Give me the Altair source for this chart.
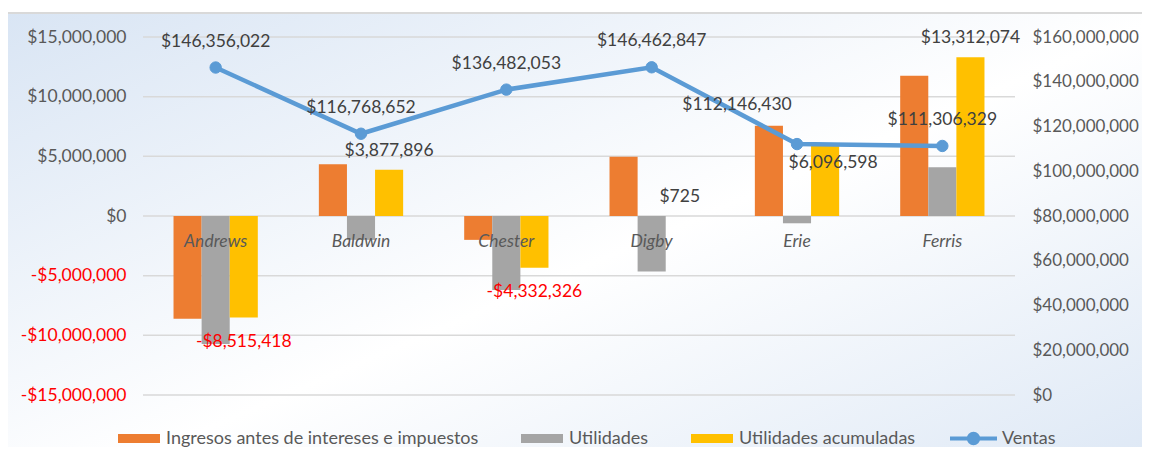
import altair as alt
import pandas as pd

# ---------------- data ----------------
categorias = ["Andrews", "Baldwin", "Chester", "Digby", "Erie", "Ferris"]
series_barras = ["Ingresos antes de intereses e impuestos", "Utilidades", "Utilidades acumuladas"]
ingresos = [-8600000, 4330000, -2000000, 4970000, 7560000, 11750000]
utilidades = [-10720000, -2000000, -6200000, -4660000, -610000, 4080000]
acumuladas = [-8515418, 3877896, -4332326, 725, 6096598, 13312074]
serie_linea = "Ventas"
ventas = [146356022, 116768652, 136482053, 146462847, 112146430, 111306329]
ticks_izq = [-15000000, -10000000, -5000000, 0, 5000000, 10000000, 15000000]
ticks_der = [0, 20000000, 40000000, 60000000, 80000000, 100000000, 120000000, 140000000, 160000000]

colores_barras = ["#ED7D31", "#A5A5A5", "#FFC000"]
color_linea = "#5B9BD5"
FONT = "Lato"
GRIS = "#595959"
GRIS_DATO = "#404040"
ROJO = "#FF0000"
W, H = 872, 358
ESPECIAL = categorias[4]  # Erie: labels placed apart, as in the original


def dinero(v):
    s = "${:,.0f}".format(abs(v))
    return "-" + s if v < 0 else s


filas = []
for i, c in enumerate(categorias):
    for s, vals in zip(series_barras, [ingresos, utilidades, acumuladas]):
        filas.append({"categoria": c, "serie": s, "valor": vals[i]})
df_barras = pd.DataFrame(filas)

df_etq = pd.DataFrame({
    "categoria": categorias,
    "serie": [series_barras[2]] * len(categorias),
    "valor": acumuladas,
    "texto": [dinero(v) for v in acumuladas],
})

df_linea = pd.DataFrame({
    "categoria": categorias,
    "serie": [serie_linea] * len(categorias),
    "valor": ventas,
    "texto": [dinero(v) for v in ventas],
})

df_grid = pd.DataFrame({"valor": ticks_izq})

# ---------------- encodings ----------------
X = alt.X(
    "categoria:N",
    sort=categorias,
    scale=alt.Scale(domain=categorias, paddingInner=0.42, paddingOuter=0.21),
    axis=alt.Axis(
        title=None, orient="bottom", offset=-H / 2, domain=False, ticks=False,
        labelAngle=0, labelFont=FONT, labelFontSize=17.5, labelFontStyle="italic",
        labelColor=GRIS, labelPadding=16, zindex=1,
    ),
)
XOFF = alt.XOffset("serie:N", sort=series_barras,
                   scale=alt.Scale(domain=series_barras, paddingInner=0, paddingOuter=0))

etiqueta_expr = "(datum.value < 0 ? '-' : '') + format(abs(datum.value), '$,.0f')"

Y_IZQ = alt.Y(
    "valor:Q",
    scale=alt.Scale(domain=[-15000000, 15000000], nice=False, zero=False),
    axis=alt.Axis(
        title=None, orient="left", values=ticks_izq, grid=False, domain=False, ticks=False,
        labelExpr=etiqueta_expr, labelFont=FONT, labelFontSize=17.5,
        labelColor={"condition": {"test": "datum.value < 0", "value": ROJO}, "value": GRIS},
        labelPadding=17, zindex=1,
    ),
)

Y_DER = alt.Y(
    "valor:Q",
    scale=alt.Scale(domain=[0, 160000000], nice=False, zero=True),
    axis=alt.Axis(
        title=None, orient="right", values=ticks_der, grid=False, domain=False, ticks=False,
        labelExpr=etiqueta_expr, labelFont=FONT, labelFontSize=17, labelColor=GRIS,
        labelPadding=17, labelLimit=300, zindex=1,
    ),
)

gradiente = {
    "gradient": "linear", "x1": 0, "y1": 0, "x2": 1, "y2": 1,
    "stops": [
        {"offset": 0, "color": "#D9E5F4"},
        {"offset": 0.5, "color": "#FFFFFF"},
        {"offset": 1, "color": "#D9E5F4"},
    ],
}

fondo = alt.Chart(alt.Data(values=[{"k": 1}])).mark_rect(
    fill=gradiente, stroke="#D9D9D9", strokeWidth=2
).encode(
    x=alt.value(-136), x2=alt.value(W + 160), y=alt.value(-24), y2=alt.value(H + 120)
)

rejilla = alt.Chart(df_grid).mark_rule(color="#D9D9D9", strokeWidth=1.5).encode(
    y=Y_IZQ, x=alt.value(0), x2=alt.value(W)
)

barras = alt.Chart(df_barras).mark_bar().encode(
    x=X, xOffset=XOFF, y=Y_IZQ,
    color=alt.Color(
        "serie:N", sort=series_barras,
        scale=alt.Scale(domain=series_barras, range=colores_barras),
        legend=alt.Legend(
            title=None, orient="none", legendX=-25, legendY=380.5, direction="horizontal",
            symbolType="M-1,-0.214H1V0.214H-1Z", symbolSize=1764, symbolStrokeWidth=0,
            labelFont=FONT, labelFontSize=18, labelColor=GRIS, labelOffset=6,
            labelLimit=500, columnPadding=42, zindex=1,
        ),
    ),
)

etq_pos = alt.Chart(df_etq).transform_filter(
    f"datum.valor >= 0 && datum.categoria != '{ESPECIAL}'"
).mark_text(
    font=FONT, fontSize=17.5, color=GRIS_DATO, baseline="middle", dy=-19
).encode(x=X, xOffset=XOFF, y=Y_IZQ, text="texto:N")

etq_esp = alt.Chart(df_etq).transform_filter(
    f"datum.categoria == '{ESPECIAL}'"
).mark_text(
    font=FONT, fontSize=17.5, color=GRIS_DATO, baseline="middle", dy=20, dx=8
).encode(x=X, xOffset=XOFF, y=Y_IZQ, text="texto:N")

etq_neg = alt.Chart(df_etq).transform_filter("datum.valor < 0").mark_text(
    font=FONT, fontSize=17.5, color=ROJO, baseline="middle", dy=24
).encode(x=X, xOffset=XOFF, y=Y_IZQ, text="texto:N")

capa_izq = alt.layer(fondo, rejilla, barras, etq_pos, etq_esp, etq_neg)

linea = alt.Chart(df_linea).mark_line(color=color_linea, strokeWidth=4.5).encode(
    x=X, y=Y_DER
)

simbolo_linea = "M-1,0H1M0.2,0A0.2,0.2,0,1,1,-0.2,0A0.2,0.2,0,1,1,0.2,0Z"
leyenda_linea = alt.Legend(
    title=None, orient="none", legendX=805, legendY=376,
    symbolType=simbolo_linea, symbolSize=2209, symbolStrokeWidth=4,
    symbolStrokeColor=color_linea, symbolFillColor=color_linea,
    labelFont=FONT, labelFontSize=18, labelColor=GRIS, labelOffset=3,
    labelLimit=300, zindex=1,
)

puntos = alt.Chart(df_linea).mark_point(filled=True, size=130, strokeWidth=1, opacity=1).encode(
    x=X, y=Y_DER,
    fill=alt.Fill("serie:N", scale=alt.Scale(domain=[serie_linea], range=[color_linea]),
                  legend=leyenda_linea),
    stroke=alt.Stroke("serie:N", scale=alt.Scale(domain=[serie_linea], range=[color_linea]),
                      legend=leyenda_linea),
)

etq_linea = alt.Chart(df_linea).transform_filter(
    f"datum.categoria != '{ESPECIAL}'"
).mark_text(
    font=FONT, fontSize=17.5, color=GRIS_DATO, baseline="middle", dy=-26
).encode(x=X, y=Y_DER, text="texto:N")

etq_linea_esp = alt.Chart(df_linea).transform_filter(
    f"datum.categoria == '{ESPECIAL}'"
).mark_text(
    font=FONT, fontSize=17.5, color=GRIS_DATO, baseline="middle", dy=-39, dx=-60
).encode(x=X, y=Y_DER, text="texto:N")

capa_der = alt.layer(linea, puntos, etq_linea, etq_linea_esp)

chart = alt.layer(capa_izq, capa_der).resolve_scale(y="independent").properties(
    width=W, height=H,
    autosize=alt.AutoSizeParams(type="none"),
    padding={"left": 135, "top": 29, "right": 127, "bottom": 52},
).configure_view(stroke=None).configure(background="white")

chart.save("out.html", embed_options={"renderer": "svg", "actions": False})
